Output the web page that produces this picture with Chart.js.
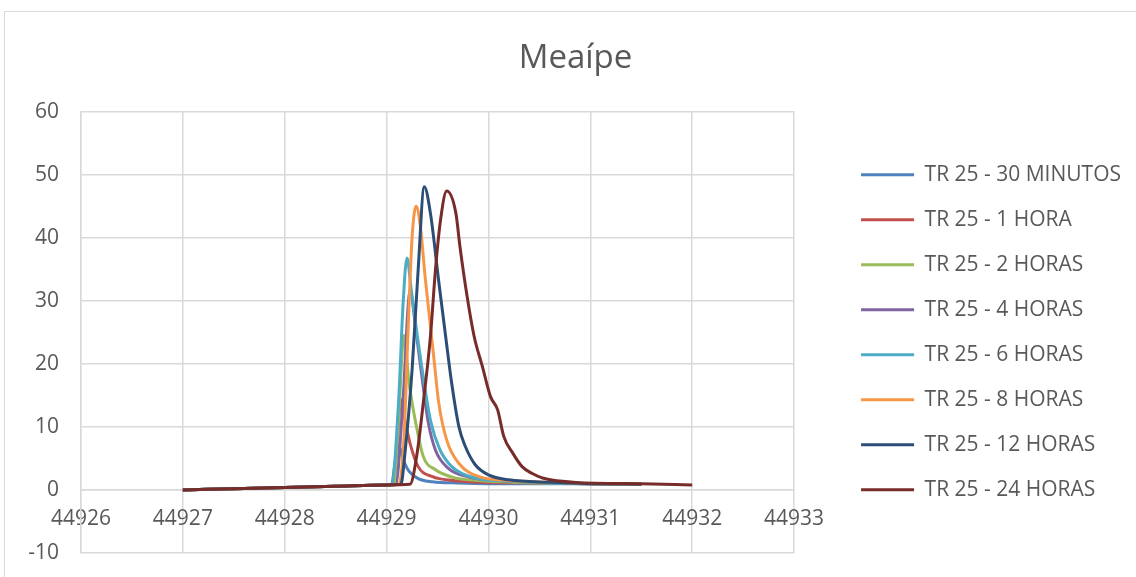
<!DOCTYPE html>
<html>
<head>
<meta charset="utf-8">
<title>Meaípe</title>
<script src="https://cdn.jsdelivr.net/npm/chart.js@4.4.1/dist/chart.umd.min.js"></script>
<style>
  body { margin: 0; background: #fff; overflow: hidden; }
  #frame { position: absolute; left: 4px; top: 11px; width: 1200px; height: 700px; border: 1px solid #d9d9d9; }
  #chart { position: absolute; left: 0; top: 0; }
</style>
</head>
<body>
<div id="frame"></div>
<canvas id="chart" width="1136" height="577"></canvas>
<script>
// baseline shared by every hydrograph before the rise
const baseT = [44927, 44927.5, 44928, 44928.5, 44929];
const baseQ = [0, 0.2, 0.4, 0.6, 0.8];

const t30min = [44929.05, 44929.08, 44929.12, 44929.16, 44929.21, 44929.31, 44929.45, 44929.7, 44930.0, 44930.5, 44931.0, 44931.5];
const q30min = [0.9, 4, 7, 5, 3.2, 1.8, 1.3, 1.1, 1.0, 1.0, 1.0, 0.9];

const t1h = [44929.06, 44929.10, 44929.14, 44929.18, 44929.23, 44929.31, 44929.45, 44929.65, 44930.0, 44930.5, 44931.0, 44931.5];
const q1h = [0.9, 7, 14.3, 11, 7.4, 3.7, 2.1, 1.5, 1.2, 1.1, 1.0, 0.9];

const t2h = [44929.07, 44929.12, 44929.17, 44929.22, 44929.30, 44929.36, 44929.48, 44929.65, 44929.9, 44930.3, 44931.0, 44931.5];
const q2h = [0.9, 12, 24.5, 17, 9.5, 5.3, 3.2, 2.0, 1.5, 1.2, 1.0, 0.9];

const t4h = [44929.09, 44929.16, 44929.23, 44929.29, 44929.35, 44929.41, 44929.48, 44929.6, 44929.8, 44930.1, 44930.5, 44931, 44931.5];
const q4h = [0.9, 14, 31.5, 25, 17.5, 10.6, 6.3, 3.5, 2.1, 1.5, 1.2, 1.0, 0.9];

const t6h = [44929.05, 44929.12, 44929.16, 44929.2, 44929.24, 44929.28, 44929.35, 44929.43, 44929.52, 44929.64, 44929.87, 44930.2, 44930.6, 44931, 44931.5];
const q6h = [0.9, 14.8, 29, 36.8, 32, 27, 19, 11.1, 6.5, 3.7, 1.9, 1.4, 1.1, 1.0, 0.9];

const t8h = [44929.12, 44929.17, 44929.21, 44929.25, 44929.29, 44929.33, 44929.38, 44929.43, 44929.47, 44929.51, 44929.59, 44929.71, 44929.91, 44930.2, 44930.6, 44931, 44931.5];
const q8h = [0.9, 8, 25, 40, 45, 42, 33.5, 26, 20, 14, 7.9, 4.2, 2.1, 1.5, 1.2, 1.0, 0.9];

const t12h = [44929.14, 44929.18, 44929.25, 44929.31, 44929.37, 44929.43, 44929.51, 44929.58, 44929.64, 44929.71, 44929.77, 44929.87, 44930.0, 44930.2, 44930.6, 44931, 44931.5];
const q12h = [0.9, 5.8, 19, 35, 48.1, 43.9, 33.3, 24.3, 16.8, 10, 7, 4, 2.4, 1.6, 1.2, 1.0, 0.9];

const t24h = [44929.23, 44929.3, 44929.36, 44929.43, 44929.48, 44929.53, 44929.59, 44929.68, 44929.72, 44929.79, 44929.86, 44929.94, 44930.02, 44930.09, 44930.15, 44930.24, 44930.33, 44930.43, 44930.53, 44930.86, 44931.5, 44932];
const q24h = [0.9, 5.9, 13.8, 24.3, 35, 42.9, 47.4, 43.9, 38.6, 30.7, 24.3, 19.6, 14.8, 12.7, 8.5, 5.8, 3.7, 2.6, 1.9, 1.2, 1.0, 0.8];

const seriesNames = ["TR 25 - 30 MINUTOS", "TR 25 - 1 HORA", "TR 25 - 2 HORAS", "TR 25 - 4 HORAS",
  "TR 25 - 6 HORAS", "TR 25 - 8 HORAS", "TR 25 - 12 HORAS", "TR 25 - 24 HORAS"];
const seriesT = [t30min, t1h, t2h, t4h, t6h, t8h, t12h, t24h];
const seriesQ = [q30min, q1h, q2h, q4h, q6h, q8h, q12h, q24h];
const colors = ["#4F81BD", "#C0504D", "#9BBB59", "#8064A2", "#4BACC6", "#F79646", "#2C4D75", "#772C2A"];

const xTicks = [44926, 44927, 44928, 44929, 44930, 44931, 44932, 44933];
const yTicks = [-10, 0, 10, 20, 30, 40, 50, 60];

const txt = "#595959";
const grid = "#d9d9d9";
const font = { family: "'Open Sans', sans-serif", size: 21 };

const datasets = seriesNames.map((name, i) => {
  const ts = baseT.concat(seriesT[i]);
  const qs = baseQ.concat(seriesQ[i]);
  return {
    label: name,
    data: ts.map((t, j) => ({ x: t, y: qs[j] })),
    borderColor: colors[i],
    backgroundColor: colors[i],
    borderWidth: 3,
    pointRadius: 0,
    cubicInterpolationMode: "monotone",
    order: seriesNames.length - 1 - i, // later series on top, like the source
  };
});

// the legend gets clamped to a quarter of the width otherwise
const roomyLegend = {
  id: "roomyLegend",
  beforeLayout(chart) {
    const lg = chart.legend;
    if (lg && !lg._roomy) {
      const orig = lg.update.bind(lg);
      lg.update = (w, h, m) => orig(Math.max(w, 420), h, m);
      lg._roomy = true;
    }
  },
};

// keep axis label overhang from eating into the plot height
const noVPad = (s) => { s.paddingTop = 0; s.paddingBottom = 0; };

new Chart(document.getElementById("chart"), {
  type: "line",
  data: { datasets },
  plugins: [roomyLegend],
  options: {
    responsive: false,
    animation: false,
    layout: { padding: { left: 20, right: 5, top: 0, bottom: 24 } },
    scales: {
      x: {
        type: "linear",
        position: { y: 0 },
        min: xTicks[0],
        max: xTicks[xTicks.length - 1],
        afterBuildTicks: (s) => { s.ticks = xTicks.map((v) => ({ value: v })); },
        ticks: { color: txt, font, padding: 16, callback: (v) => String(v) },
        grid: { color: grid, lineWidth: 1.5, drawTicks: false },
        border: { color: grid, width: 1.5 },
        afterFit: noVPad,
      },
      y: {
        type: "linear",
        min: yTicks[0],
        max: yTicks[yTicks.length - 1],
        afterBuildTicks: (s) => { s.ticks = yTicks.map((v) => ({ value: v })); },
        ticks: { color: txt, font, padding: 22 },
        grid: { color: grid, lineWidth: 1.5, drawTicks: false },
        border: { color: grid, width: 1.5 },
        afterFit: (s) => { s.width = 61; noVPad(s); },
      },
      gap: {
        type: "linear",
        position: "right",
        display: true,
        ticks: { display: false },
        grid: { display: false },
        border: { display: false },
        afterFit: (s) => { s.width = 43; noVPad(s); },
      },
    },
    plugins: {
      title: {
        display: true,
        text: "Meaípe",
        color: txt,
        font: { family: "'Open Sans', sans-serif", size: 33, weight: "normal" },
        padding: { top: 39, bottom: 33 },
      },
      legend: {
        position: "right",
        fullSize: false,
        labels: {
          color: txt,
          font,
          boxWidth: 53,
          boxHeight: 3,
          padding: 24,
          sort: (a, b) => a.datasetIndex - b.datasetIndex,
          generateLabels: (chart) =>
            Chart.defaults.plugins.legend.labels.generateLabels(chart).map((l) => ({
              ...l, lineWidth: 0, fillStyle: l.strokeStyle,
            })),
        },
      },
      tooltip: { enabled: false },
    },
  },
});
</script>
</body>
</html>
